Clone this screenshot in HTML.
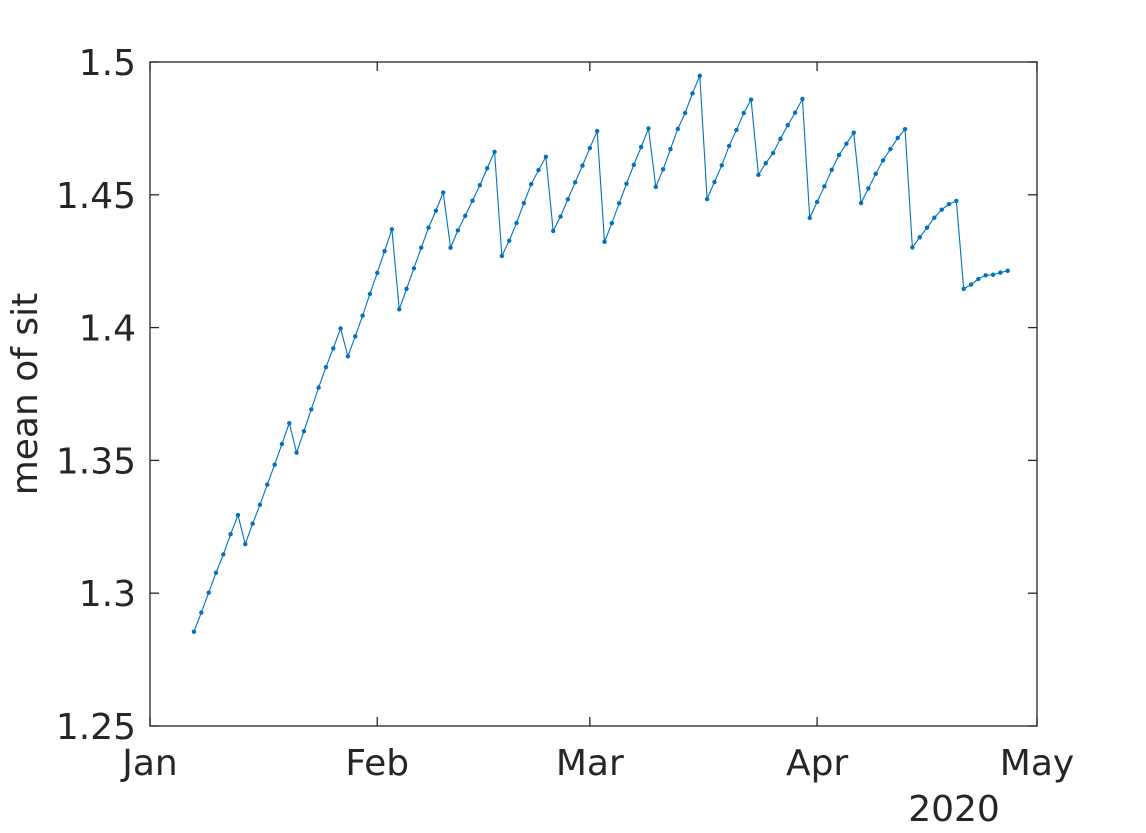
<!DOCTYPE html>
<html><head><meta charset="utf-8"><style>
html,body{margin:0;padding:0;background:#fff;}
svg{display:block;font-family:"DejaVu Sans","Liberation Sans",sans-serif;}
</style></head><body>
<svg id="chart" width="1146" height="833" viewBox="0 0 1146 833" xmlns="http://www.w3.org/2000/svg">
<rect x="0" y="0" width="1146" height="833" fill="#fff"/>
<g id="axes"></g>
<g id="series"></g>
</svg>
<script>
const startDay = 6;
const values = [1.2855,1.2927,1.3002,1.3077,1.3146,1.3222,1.3294,1.3185,1.3262,1.3333,1.3409,1.3484,1.3562,1.3640,1.3529,1.3610,1.3692,1.3774,1.3851,1.3922,1.3997,1.3892,1.3967,1.4045,1.4127,1.4206,1.4288,1.4370,
1.4069,1.4146,1.4223,1.4301,1.4376,1.4440,1.4509,
1.4301,1.4366,1.4421,1.4478,1.4536,1.4600,1.4662,
1.4270,1.4327,1.4394,1.4469,1.4540,1.4593,1.4643,
1.4364,1.4418,1.4483,1.4547,1.4610,1.4676,1.4740,
1.4323,1.4393,1.4468,1.4542,1.4613,1.4680,1.4750,
1.4530,1.4596,1.4672,1.4748,1.4808,1.4882,1.4948,
1.4484,1.4548,1.4611,1.4684,1.4744,1.4808,1.4858,
1.4575,1.4619,1.4657,1.4711,1.4762,1.4809,1.4861,
1.4413,1.4473,1.4532,1.4594,1.4650,1.4692,1.4734,
1.4469,1.4524,1.4579,1.4630,1.4672,1.4714,1.4747,
1.4302,1.4340,1.4376,1.4414,1.4444,1.4465,1.4477,
1.4146,1.4162,1.4183,1.4197,1.4199,1.4207,1.4214];
const yTicks = [1.25,1.3,1.35,1.4,1.45,1.5];
const yTickLabels = ["1.25","1.3","1.35","1.4","1.45","1.5"];
const xTickDays = [0,31,60,91,121];
const xTickLabels = ["Jan","Feb","Mar","Apr","May"];
const yearLabel = "2020";

const L=150,R=1037,T=62,B=726;
const xMin=0,xMax=121,yMin=1.25,yMax=1.5;
function xs(d){return L+(d-xMin)/(xMax-xMin)*(R-L);}
function ys(v){return B-(v-yMin)/(yMax-yMin)*(B-T);}
const NS="http://www.w3.org/2000/svg";
function mk(tag,attrs,parent){const e=document.createElementNS(NS,tag);for(const k in attrs)e.setAttribute(k,attrs[k]);parent.appendChild(e);return e;}
const ax=document.getElementById('axes');
const box=mk('rect',{x:L,y:T,width:R-L,height:B-T,fill:'none',stroke:'#262626','stroke-width':1.3},ax);


yTicks.forEach((v,i)=>{
  const y=ys(v);
  const t1=mk('line',{x1:L,x2:L+9,y1:y,y2:y,stroke:'#262626','stroke-width':1.3},ax);
  
  
  const t2=mk('line',{x1:R-9,x2:R,y1:y,y2:y,stroke:'#262626','stroke-width':1.3},ax);
  
  
  const tx=mk('text',{x:L-14,y:y+13,'text-anchor':'end','font-size':36,fill:'#262626'},ax);
  tx.textContent=yTickLabels[i];
  
  
});
xTickDays.forEach((d,i)=>{
  const x=xs(d);
  const t1=mk('line',{x1:x,x2:x,y1:B,y2:B-9,stroke:'#262626','stroke-width':1.3},ax);
  
  
  const t2=mk('line',{x1:x,x2:x,y1:T,y2:T+9,stroke:'#262626','stroke-width':1.3},ax);
  
  
  const tx=mk('text',{x:x,y:B+49,'text-anchor':'middle','font-size':36,fill:'#262626'},ax);
  tx.textContent=xTickLabels[i];
  
  
});
const yr=mk('text',{x:954,y:821,'text-anchor':'middle','font-size':36,fill:'#262626'},ax);
yr.textContent=yearLabel;


const yl=mk('text',{x:0,y:0,'text-anchor':'middle','font-size':36,fill:'#262626',transform:'translate(37,394) rotate(-90)'},ax);
yl.textContent='mean of sit';



const sg=document.getElementById('series');
const pts=values.map((v,i)=>xs(startDay+i).toFixed(2)+','+ys(v).toFixed(2)).join(' ');
const pl=mk('polyline',{points:pts,fill:'none',stroke:'#0072BD','stroke-width':1.1},sg);


values.forEach((v,i)=>{
  const c=mk('circle',{cx:xs(startDay+i),cy:ys(v),r:2.2,fill:'#0072BD'},sg);
  
  
});
</script>
</body></html>
